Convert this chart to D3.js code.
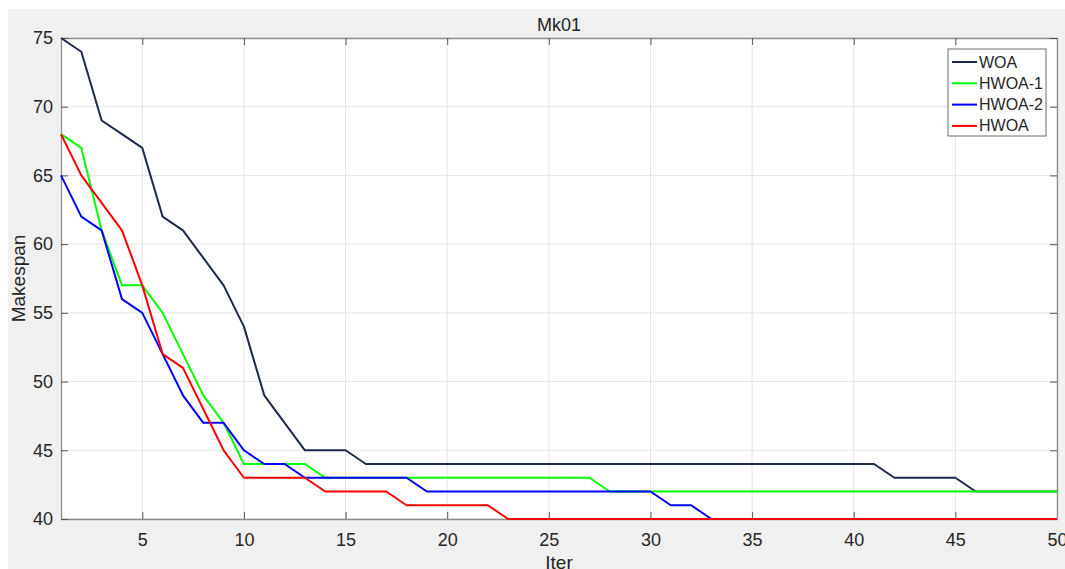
<html>
<head>
<meta charset="utf-8">
<style>
  body { margin: 0; background: #fff; }
  text { font-family: "Liberation Sans", Arial, Helvetica, sans-serif; }
</style>
</head>
<body>
<svg width="1065" height="569"></svg>

<script src="https://d3js.org/d3.v7.min.js"></script>
<script>
// iterations 1..50, best makespan per iteration for every algorithm
var iters = d3.range(1, 51)

var woa = [75, 74, 69, 68, 67, 62, 61, 59, 57, 54,
           49, 47, 45, 45, 45, 44, 44, 44, 44, 44,
           44, 44, 44, 44, 44, 44, 44, 44, 44, 44,
           44, 44, 44, 44, 44, 44, 44, 44, 44, 44,
           44, 43, 43, 43, 43, 42, 42, 42, 42, 42]
var hwoa1 = [68, 67, 61, 57, 57, 55, 52, 49, 47, 44,
             44, 44, 44, 43, 43, 43, 43, 43, 43, 43,
             43, 43, 43, 43, 43, 43, 43, 42, 42, 42,
             42, 42, 42, 42, 42, 42, 42, 42, 42, 42,
             42, 42, 42, 42, 42, 42, 42, 42, 42, 42]
var hwoa2 = [65, 62, 61, 56, 55, 52, 49, 47, 47, 45,
             44, 44, 43, 43, 43, 43, 43, 43, 42, 42,
             42, 42, 42, 42, 42, 42, 42, 42, 42, 42,
             41, 41, 40, 40, 40, 40, 40, 40, 40, 40,
             40, 40, 40, 40, 40, 40, 40, 40, 40, 40]
var hwoa = [68, 65, 63, 61, 57, 52, 51, 48, 45, 43,
            43, 43, 43, 42, 42, 42, 42, 41, 41, 41,
            41, 41, 40, 40, 40, 40, 40, 40, 40, 40,
            40, 40, 40, 40, 40, 40, 40, 40, 40, 40,
            40, 40, 40, 40, 40, 40, 40, 40, 40, 40]

var seriesNames = ['WOA', 'HWOA-1', 'HWOA-2', 'HWOA']
var seriesValues = [woa, hwoa1, hwoa2, hwoa]
var seriesColors = ['#1d2a4a', '#00ff00', '#0000ff', '#ff0000']

var xTicks = [5, 10, 15, 20, 25, 30, 35, 40, 45, 50]
var yTicks = [40, 45, 50, 55, 60, 65, 70, 75]

var svg = d3.select('svg')
// plot box edges (window.top is reserved, so use other names)
var boxL = 61, boxT = 38, boxR = 1057, boxB = 519

// figure background (matlab grey) and white axes box
svg.append('rect').attr('x', 8).attr('y', 9).attr('width', 1057).attr('height', 560).attr('fill', '#f0f0f0')
svg.append('rect').attr('x', boxL).attr('y', boxT).attr('width', boxR - boxL).attr('height', boxB - boxT).attr('fill', '#fff')

var x = d3.scaleLinear().domain([1, 50]).range([boxL, boxR])
var y = d3.scaleLinear().domain([40, 75]).range([boxB, boxT])

// grid
var grid = svg.append('g').attr('stroke', '#e4e4e4').attr('stroke-width', 1)
xTicks.forEach(function (t) {
  grid.append('line').attr('x1', x(t)).attr('x2', x(t)).attr('y1', boxT).attr('y2', boxB)
})
yTicks.forEach(function (t) {
  grid.append('line').attr('x1', boxL).attr('x2', boxR).attr('y1', y(t)).attr('y2', y(t))
})

// axes, ticks pointing inward on all four sides
function styleAxis(g) {
  g.select('.domain').attr('stroke', '#8c8c8c').attr('stroke-width', 1.3)
  g.selectAll('.tick line').attr('stroke', '#555')
  g.selectAll('.tick text').attr('fill', '#262626').attr('font-size', 18)
    .attr('font-family', '"Liberation Sans", Arial, sans-serif')
}
svg.append('g').attr('transform', 'translate(0,' + boxB + ')')
  .call(d3.axisBottom(x).tickValues(xTicks).tickSizeInner(-7).tickSizeOuter(0).tickPadding(14))
  .call(styleAxis)
svg.append('g').attr('transform', 'translate(0,' + boxT + ')')
  .call(d3.axisTop(x).tickValues(xTicks).tickSizeInner(-7).tickSizeOuter(0).tickFormat(''))
  .call(styleAxis)
svg.append('g').attr('transform', 'translate(' + boxL + ',0)')
  .call(d3.axisLeft(y).tickValues(yTicks).tickSizeInner(-7).tickSizeOuter(0).tickPadding(8))
  .call(styleAxis)
svg.append('g').attr('transform', 'translate(' + boxR + ',0)')
  .call(d3.axisRight(y).tickValues(yTicks).tickSizeInner(-7).tickSizeOuter(0).tickFormat(''))
  .call(styleAxis)

// series lines
var line = d3.line()
  .x(function (d, i) { return x(iters[i]) })
  .y(function (d) { return y(d) })

seriesValues.forEach(function (vals, k) {
  svg.append('path')
    .attr('d', line(vals))
    .attr('fill', 'none')
    .attr('stroke', seriesColors[k])
    .attr('stroke-width', 2)
    .attr('stroke-linejoin', 'round')
})

// title and axis labels
svg.append('text').attr('x', 559).attr('y', 31).attr('text-anchor', 'middle')
  .attr('font-size', 18).attr('fill', '#262626').text('Mk01')
svg.append('text').attr('x', 559).attr('y', 569).attr('text-anchor', 'middle')
  .attr('font-size', 19).attr('fill', '#262626').text('Iter')
svg.append('text').attr('transform', 'translate(25,' + ((boxT + boxB) / 2) + ') rotate(-90)')
  .attr('text-anchor', 'middle').attr('font-size', 19).attr('fill', '#262626').text('Makespan')

// legend
var legend = svg.append('g')
legend.append('rect').attr('x', 948).attr('y', 49).attr('width', 98).attr('height', 87)
  .attr('fill', '#fff').attr('stroke', '#6e6e6e').attr('stroke-width', 1)
seriesNames.forEach(function (name, k) {
  var ly = 62 + k * 21.3
  legend.append('line').attr('x1', 952).attr('x2', 977).attr('y1', ly).attr('y2', ly)
    .attr('stroke', seriesColors[k]).attr('stroke-width', 2)
  legend.append('text').attr('x', 979).attr('y', ly + 5.5).attr('font-size', 16)
    .attr('fill', '#262626').text(name)
})
</script>
</body>
</html>
